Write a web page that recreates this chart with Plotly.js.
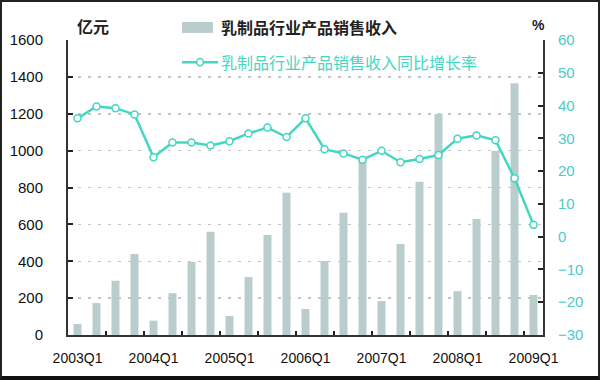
<!DOCTYPE html>
<html><head><meta charset="utf-8">
<script src="https://cdn.plot.ly/plotly-3.0.1.min.js"></script>
<style>
html,body{margin:0;padding:0;background:#fff;}
#wrap{width:600px;height:380px;box-sizing:border-box;border:2px solid #222;border-bottom:4px solid #111;overflow:hidden;}
#chart{width:596px;height:374px;}
</style></head>
<body><div id="wrap"><div id="chart"></div></div>
<script>
const quarters = ["2003Q1","2003Q2","2003Q3","2003Q4","2004Q1","2004Q2","2004Q3","2004Q4",
  "2005Q1","2005Q2","2005Q3","2005Q4","2006Q1","2006Q2","2006Q3","2006Q4",
  "2007Q1","2007Q2","2007Q3","2007Q4","2008Q1","2008Q2","2008Q3","2008Q4","2009Q1"];
const tickLabels = ["2003Q1","2004Q1","2005Q1","2006Q1","2007Q1","2008Q1","2009Q1"];
const revenue = [60,173,294,439, 78,227,396,560, 103,314,542,772, 141,401,663,958,
  184,493,831,1198, 238,629,1000,1366, 217];
const growth = [36.1,39.7,39.2,37.3, 24.2,28.7,28.7,27.8, 29.1,31.5,33.3,30.4,
  36.1,26.7,25.4,23.5, 26.2,22.7,23.7,24.9, 29.9,30.9,29.4,17.8, 3.6];
const nameBar = "乳制品行业产品销售收入";
const nameLine = "乳制品行业产品销售收入同比增长率";

const FONT = "Liberation Sans, Arial, Noto Sans CJK SC, sans-serif";
const CJK = "Noto Sans CJK SC, sans-serif";
const barColor = "#b9cdcd";
const lineColor = "#45d6c2";
const rightColor = "#4fc9c9";

const traces = [
  {type:"bar", x:quarters, y:revenue, name:nameBar, marker:{color:barColor}, yaxis:"y", showlegend:false},
  {type:"scatter", mode:"lines+markers", x:quarters, y:growth, name:nameLine, yaxis:"y2", showlegend:false,
   line:{color:lineColor, width:2.5}, marker:{symbol:"circle", size:7, color:"#ffffff", line:{color:lineColor, width:1.5}}},
  {type:"scatter", mode:"none", x:[], y:[], xaxis:"x2", yaxis:"y", showlegend:false, hoverinfo:"skip"}
];

const layout = {
  width:596, height:374,
  margin:{l:66, r:55, t:38, b:41, autoexpand:false},
  paper_bgcolor:"#fff", plot_bgcolor:"#fff",
  bargap:0.58,
  showlegend:false,
  font:{family:FONT, size:14, color:"#111"},
  xaxis:{type:"category", range:[-0.5,24.5], tickvals:tickLabels, ticktext:tickLabels, showline:true, linecolor:"#333", linewidth:2,
    ticks:"", showgrid:false, tickfont:{size:14, family:FONT, color:"#111"}, ticklabelstandoff:9},
  xaxis2:{overlaying:"x", anchor:"y", side:"bottom", type:"linear", range:[-0.5,24.5], autorange:false, tick0:1.5, dtick:2,
    ticks:"inside", ticklen:4, tickwidth:2, tickcolor:"#222", showticklabels:false, showgrid:false, zeroline:false, showline:false},
  yaxis:{range:[0,1600], dtick:200, showline:true, linecolor:"#333", linewidth:2, ticks:"inside", ticklen:5,
    tickcolor:"#222", tickwidth:2, showgrid:true, gridcolor:"#c4c4c4", griddash:"3px,7px", gridwidth:1.5,
    zeroline:false, tickfont:{size:15, family:FONT, color:"#111"}, ticklabelstandoff:20},
  yaxis2:{range:[-30,60], dtick:10, overlaying:"y", side:"right", showline:true, linecolor:"#333", linewidth:2,
    ticks:"inside", ticklen:5, tickcolor:"#222", tickwidth:2, showgrid:false, zeroline:false,
    tickfont:{size:15, family:FONT, color:rightColor}, ticklabelstandoff:10},
  shapes:[
    {type:"rect", xref:"paper", yref:"paper", x0:0.24, x1:0.305, y0:1.024, y1:1.061, fillcolor:barColor, line:{width:0}},
    {type:"line", xref:"paper", yref:"paper", x0:0.24, x1:0.316, y0:0.925, y1:0.925, line:{color:lineColor, width:2.5}},
    {type:"circle", xref:"paper", yref:"paper", x0:0.271, x1:0.285, y0:0.913, y1:0.937, fillcolor:"#fff", line:{color:lineColor, width:1.5}}
  ],
  annotations:[
    {text:"<b>"+nameBar+"</b>", xref:"paper", yref:"paper", x:0.318, y:1.044, xanchor:"left", yanchor:"middle", showarrow:false, font:{size:16, family:CJK, color:"#222"}},
    {text:nameLine, xref:"paper", yref:"paper", x:0.318, y:0.925, xanchor:"left", yanchor:"middle", showarrow:false, font:{size:16, family:CJK, color:lineColor}},
    {text:"<b>亿元</b>", xref:"paper", yref:"paper", x:0.053, y:1.047, xanchor:"center", yanchor:"middle", showarrow:false, font:{size:16, family:CJK, color:"#222"}},
    {text:"<b>%</b>", xref:"paper", yref:"paper", x:0.99, y:1.05, xanchor:"center", yanchor:"middle", showarrow:false, font:{size:14, family:FONT, color:"#222"}}
  ]
};
Plotly.newPlot("chart", traces, layout, {displayModeBar:false, staticPlot:true});
</script></body></html>
